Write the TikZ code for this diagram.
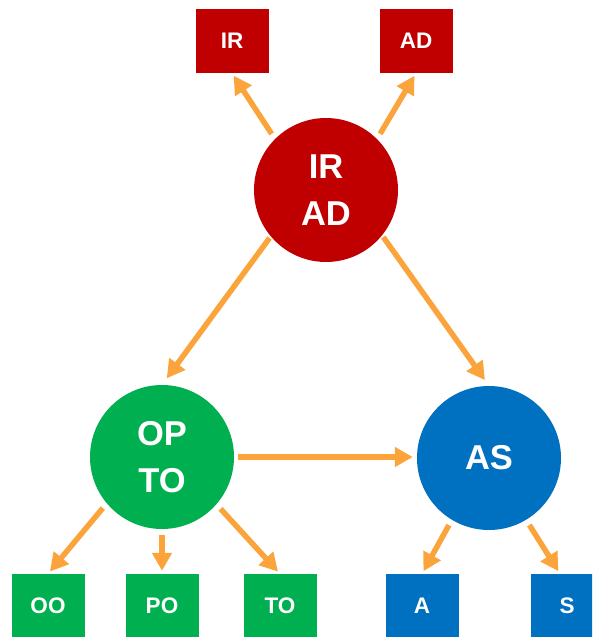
\documentclass[tikz,border=0pt]{standalone}
\usepackage{fontspec}
\setmainfont{Liberation Sans}
\usetikzlibrary{arrows.meta,positioning}
\definecolor{rootRed}{HTML}{C00000}
\definecolor{optoGreen}{HTML}{00B050}
\definecolor{asBlue}{HTML}{0070C0}
\definecolor{flowOrange}{HTML}{FBA43B}

\begin{document}
\begin{tikzpicture}[x=1pt, y=-1pt,
    hub/.style={circle, minimum size=144pt, inner sep=0pt, text=white,
                align=center, font=\bfseries\fontsize{34.5}{47}\selectfont},
    leaf/.style={rectangle, minimum width=73pt, minimum height=64pt,
                 inner sep=0pt, text=white, font=\bfseries\fontsize{22.5}{26}\selectfont},
    flow/.style={flowOrange, line width=5.5pt,
                 -{Triangle[length=18pt, width=19pt]},
                 shorten <=6pt, shorten >=3pt}]
    \useasboundingbox (0,0) rectangle (592,637);
    \clip (0,0) rectangle (592,637);
    % hubs
    \node[hub, fill=rootRed]   (root) at (326,190) {IR\\AD};
    \node[hub, fill=optoGreen] (opto) at (162,457) {OP\\TO};
    \node[hub, fill=asBlue]    (as)   at (489,458) {AS};
    % leaves
    \node[leaf, fill=rootRed] (irLeaf) at (232,41) {IR};
    \node[leaf, fill=rootRed] (adLeaf) at (416,41) {AD};
    \node[leaf, fill=optoGreen] (ooLeaf) at (48,606)  {OO};
    \node[leaf, fill=optoGreen] (poLeaf) at (162,606) {PO};
    \node[leaf, fill=optoGreen] (toLeaf) at (280,606) {TO};
    \node[leaf, fill=asBlue] (aLeaf) at (422,606) {A};
    \node[leaf, fill=asBlue] (sLeaf) at (567,606) {S};
    % connectors
    \draw[flow] (root.135) -- (irLeaf.south);
    \draw[flow] (root.45) -- (adLeaf.south);
    \draw[flow, shorten <=2pt, shorten >=8pt] (root.220) -- (opto.north);
    \draw[flow, shorten <=2pt, shorten >=7pt] (root.-39) -- (as.north);
    \draw[flow, shorten <=4pt, shorten >=4pt] (opto.east) -- (opto.east -| as.west);
    \draw[flow] (opto.220) -- (ooLeaf.north);
    \draw[flow] (opto.south) -- (poLeaf.north);
    \draw[flow] (opto.-41) -- (toLeaf.north);
    \draw[flow] (as.239) -- (aLeaf.north);
    \draw[flow] (as.-59) -- ([xshift=-7pt]sLeaf.north);
\end{tikzpicture}
\end{document}
